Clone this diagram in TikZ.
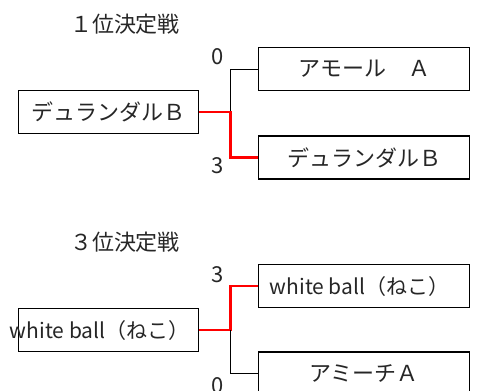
\documentclass[tikz,border=0pt]{standalone}
\usepackage{fontspec}
\setmainfont{Noto Sans CJK JP}
\usetikzlibrary{positioning}

\begin{document}
\begin{tikzpicture}[
    x=1pt, y=-1pt,
    font=\fontsize{22}{26}\selectfont,
    text=black!85,
    team/.style={
        draw,
        line width=1.3pt,
        minimum width=180pt,
        minimum height=43pt,
        inner sep=0pt,
        anchor=north west,
    },
    entry/.style={team, minimum width=211pt},
    latin/.style={font=\fontsize{21}{25}\selectfont},
    win/.style={red, line width=2.6pt},
    lose/.style={black, line width=1.3pt},
    score/.style={inner sep=0pt},
]
\useasboundingbox (0,0) rectangle (477,391);
\clip (0,0) rectangle (477,391);

% ----- 1st place match -----
\node (title1) at (125,24) {１位決定戦};
\node[team] (left1) at (18,90) {デュランダルＢ};
\node[entry] (top1) at (258,47) {アモール　Ａ};
\node[entry, below=44pt of top1] (bot1) {デュランダルＢ};
\path (left1.east) ++(31,0) coordinate (j1);

\node[score] (s1top) at (218,57) {0};
\node[score] (s1bot) at (218,166) {3};

\draw[lose] (top1.west) -| (j1);
\draw[win] (left1.east) -- (j1) |- (bot1.west);

% ----- 3rd place match -----
\node (title3) at (125,242) {３位決定戦};
\node[team, latin] (left3) at (18,308) {\makebox[162pt][r]{white ball（ねこ）}};
\node[entry, latin] (top3) at (258,264) {\makebox[189pt][l]{white ball（ねこ）}};
\node[entry, below=43pt of top3] (bot3) {アミーチＡ};
\path (left3.east) ++(31,0) coordinate (j3);

\node[score] (s3top) at (218,275) {3};
\node[score] (s3bot) at (218,386) {0};

\draw[win] (left3.east) -- (j3) |- (top3.west);
\draw[lose] (bot3.west) -| (j3);

\end{tikzpicture}
\end{document}
